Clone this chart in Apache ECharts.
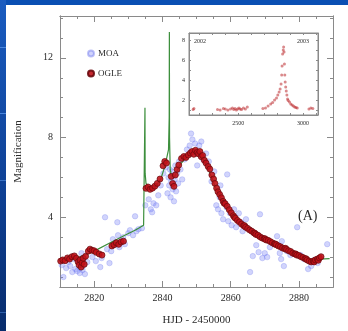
<!DOCTYPE html>
<html>
<head>
<meta charset="utf-8">
<script src="https://cdn.jsdelivr.net/npm/echarts@6/dist/echarts.min.js"></script>
<style>
  html, body { margin: 0; padding: 0; background: #ffffff; }
  #chart { width: 348px; height: 331px; }
</style>
</head>
<body>
<div id="chart"></div>
<script>
// MOA photometry (HJD - 2450000, magnification)
const moaHJD = [2810.5,2811.0,2811.8,2812.5,2813.0,2813.6,2814.0,2814.5,2815.0,2815.5,2815.8,2816.0,2816.3,2816.6,2817.0,2817.3,2818.0,2819.5,2820.5,2821.8,2822.2,2823.2,2823.8,2824.5,2825.0,2825.5,2826.0,2826.4,2826.8,2827.0,2827.4,2828.0,2828.5,2829.0,2830.0,2830.5,2831.4,2832.0,2832.4,2833.0,2834.0,2835.0,2836.0,2836.6,2837.0,2837.4,2838.2,2838.8,2839.5,2840.3,2841.0,2841.5,2841.8,2842.0,2842.2,2842.4,2842.6,2842.8,2843.0,2843.2,2843.4,2843.6,2843.8,2844.0,2844.3,2844.6,2844.9,2845.3,2845.8,2846.5,2847.2,2848.0,2848.4,2848.8,2849.2,2849.6,2850.2,2850.8,2851.4,2852.0,2852.8,2853.6,2854.4,2855.2,2855.8,2856.3,2856.8,2857.0,2857.3,2857.8,2858.2,2858.8,2859.0,2859.3,2859.8,2860.3,2861.0,2861.6,2862.4,2863.0,2863.5,2864.5,2865.7,2866.5,2867.5,2868.2,2868.6,2869.3,2870.0,2870.7,2871.5,2872.5,2873.6,2874.0,2874.4,2874.8,2875.0,2875.6,2876.5,2877.5,2879.5,2880.5,2881.5,2882.7,2883.6,2884.5,2885.5,2888.3];
const moaMag = [1.60,1.00,1.45,1.75,1.55,1.25,1.90,1.40,1.30,1.80,1.20,1.45,2.20,1.35,1.60,1.15,1.75,2.00,1.80,1.50,1.95,4.00,2.40,1.70,2.30,2.90,2.60,2.75,3.75,3.10,2.50,2.85,3.00,2.65,3.20,3.35,3.10,4.05,3.30,3.40,3.45,4.60,4.90,4.40,4.25,4.70,4.60,5.10,5.60,6.20,6.50,5.20,6.00,5.60,6.40,5.00,5.80,6.30,5.40,6.10,4.80,5.90,6.60,5.30,6.20,5.70,6.80,6.40,5.90,6.90,7.40,7.60,8.20,7.90,7.30,7.70,6.60,7.60,7.80,6.90,7.20,6.80,5.80,6.30,4.60,4.40,5.00,5.60,4.20,3.90,4.70,4.50,6.15,3.80,4.20,3.60,4.40,3.50,4.20,3.75,3.30,3.90,1.25,2.05,2.60,2.25,4.15,1.95,2.20,2.00,2.50,2.70,3.05,2.60,2.20,1.90,2.80,1.55,2.30,2.10,3.50,2.10,1.90,1.40,1.55,1.85,1.70,2.65];

// OGLE photometry (HJD - 2450000, magnification)
const ogleHJD = [2810.2,2810.8,2811.5,2812.2,2812.8,2813.5,2814.2,2814.8,2815.3,2815.6,2815.9,2816.2,2816.5,2816.8,2817.1,2817.5,2818.3,2818.8,2819.4,2820.0,2820.6,2821.5,2822.3,2825.2,2825.8,2826.5,2827.2,2827.9,2828.6,2835.2,2835.8,2836.4,2837.1,2837.8,2838.5,2839.3,2840.2,2840.7,2841.2,2842.6,2843.0,2843.4,2843.8,2844.3,2844.8,2845.6,2846.3,2846.9,2847.6,2848.2,2848.7,2849.2,2849.7,2850.2,2850.6,2851.0,2851.4,2851.8,2852.3,2852.8,2853.4,2853.9,2854.5,2855.0,2855.4,2855.9,2856.3,2856.8,2857.3,2857.8,2858.1,2858.4,2859.0,2859.6,2860.2,2860.8,2861.1,2861.4,2862.0,2862.6,2863.2,2863.8,2864.1,2864.4,2865.0,2865.6,2866.2,2866.8,2867.1,2867.4,2868.0,2868.6,2869.2,2869.8,2870.1,2870.4,2871.0,2871.6,2872.2,2872.8,2873.1,2873.4,2874.0,2874.6,2875.2,2875.8,2876.1,2876.4,2877.0,2877.6,2878.2,2878.8,2879.1,2879.4,2880.0,2880.6,2881.2,2881.8,2882.1,2882.4,2883.0,2883.6,2884.2,2884.5,2884.8,2885.4,2885.7,2886.0,2886.5];
const ogleMag = [1.80,1.86,1.82,1.96,1.90,2.02,2.06,1.94,1.76,1.60,1.86,1.50,1.72,1.94,1.64,2.04,2.30,2.40,2.34,2.32,2.24,2.16,2.10,2.56,2.62,2.72,2.64,2.76,2.80,5.45,5.52,5.40,5.46,5.56,5.70,5.92,6.58,6.80,6.72,6.05,5.70,5.55,6.12,6.40,6.62,6.95,7.05,7.00,7.12,7.22,7.30,7.16,7.36,7.25,7.18,7.30,7.04,7.10,6.86,6.72,6.55,6.42,6.12,5.92,5.70,5.46,5.28,5.14,4.98,4.80,4.70,4.68,4.55,4.38,4.22,4.08,4.00,3.95,3.84,3.76,3.66,3.58,3.58,3.50,3.44,3.36,3.30,3.22,3.20,3.14,3.10,3.02,2.96,2.92,2.92,2.86,2.84,2.78,2.72,2.66,2.66,2.62,2.56,2.52,2.46,2.42,2.44,2.38,2.32,2.28,2.20,2.16,2.16,2.10,2.08,2.02,1.98,1.92,1.92,1.86,1.80,1.76,1.80,1.76,1.86,1.90,1.84,1.96,2.02];

// Binary-lens model curve with the two caustic crossings
const modelHJD = [2810,2815,2820,2825,2829,2832,2834.5,2834.85,2834.9,2834.95,2835.2,2836.5,2838,2839.5,2840.8,2841.8,2842.0,2842.05,2842.1,2842.3,2842.6,2843.5,2845,2847,2849,2850.5,2852,2854,2856,2858,2860,2862,2865,2868,2871,2874,2877,2880,2883,2886,2889];
const modelMag = [1.80,1.95,2.30,2.75,3.10,3.35,3.60,3.65,9.50,6.20,5.70,5.45,5.55,5.90,6.60,7.40,9.00,13.30,8.00,6.40,6.10,6.00,6.60,7.00,7.20,7.20,6.90,6.20,5.30,4.65,4.15,3.80,3.40,3.02,2.78,2.52,2.27,2.06,1.86,1.90,1.92];

// Full multi-season light curve shown in the inset
const insetHJD = [2152,2158,2340,2360,2385,2400,2420,2440,2455,2465,2475,2485,2495,2505,2515,2525,2540,2555,2570,2690,2710,2730,2750,2765,2780,2795,2805,2815,2823,2830,2835,2838,2842,2847,2850,2853,2856,2859,2862,2866,2870,2875,2880,2885,2895,2905,2915,2925,2935,2945,2955,3045,3060,3075];
const insetMag = [1.05,1.15,1.05,1.00,1.15,1.10,1.00,1.10,1.20,1.05,1.15,1.00,1.10,1.20,1.10,1.05,1.20,1.10,1.30,1.15,1.20,1.40,1.60,1.75,2.00,2.20,2.50,2.80,3.10,3.60,4.50,5.40,6.60,7.00,7.30,6.80,5.60,4.50,3.80,3.30,2.90,2.50,2.10,1.95,1.80,1.60,1.50,1.40,1.30,1.25,1.20,1.10,1.20,1.15];

// Tick positions and labels
const mainXLabels = [2820, 2840, 2860, 2880];
const mainYLabels = [4, 8, 12];
const insetXLabels = [2500, 3000];
const insetYLabels = [2, 4, 6, 8];
const seasonLabels = ['2002', '2003'];
const seriesNames = ['MOA', 'OGLE'];

const zip = (a, b) => a.map((v, i) => [v, b[i]]);
const range = (a, b, s) => { const r = []; for (let v = a; v <= b + 1e-9; v += s) r.push(+v.toFixed(6)); return r; };

const serif = '"Liberation Serif", "DejaVu Serif", serif';
const axisGray = '#8a8a8a';
const textCol = '#2a2a2a';
const plain = v => String(v);

function axis(grid, pos, min, max, ticks, len, labels, fs, margin, extra) {
  return Object.assign({
    type: 'value', gridIndex: grid, position: pos, min: min, max: max,
    axisLine: { show: true, lineStyle: { color: axisGray, width: 1 } },
    axisTick: { show: true, inside: true, length: len, customValues: ticks, lineStyle: { color: axisGray } },
    axisLabel: labels ? { show: true, customValues: labels, formatter: plain, color: textCol, fontFamily: serif, fontSize: fs, margin: margin } : { show: false },
    splitLine: { show: false }
  }, extra || {});
}

const chart = echarts.init(document.getElementById('chart'), null, { renderer: 'canvas' });

const option = {
  backgroundColor: '#ffffff',
  animation: false,
  grid: [
    { left: 60, top: 16, width: 273, height: 272, show: false },
    { left: 189, top: 33, width: 129, height: 82, show: true, backgroundColor: '#ffffff', borderColor: axisGray, borderWidth: 1, z: 5 }
  ],
  xAxis: [
    axis(0, 'bottom', 2810, 2890, range(2810, 2890, 5), 3, mainXLabels, 10, 6,
      { name: 'HJD - 2450000', nameLocation: 'middle', nameGap: 28, nameTextStyle: { color: textCol, fontFamily: serif, fontSize: 11 } }),
    axis(0, 'bottom', 2810, 2890, mainXLabels, 6, null),
    axis(0, 'top', 2810, 2890, range(2810, 2890, 5), 3, null),
    axis(0, 'top', 2810, 2890, mainXLabels, 6, null),
    axis(1, 'bottom', 2120, 3115, range(2200, 3100, 100), 2, insetXLabels, 6, 5, { z: 6 }),
    axis(1, 'top', 2120, 3115, range(2200, 3100, 100), 2, null, 6, 5, { z: 6 })
  ],
  yAxis: [
    axis(0, 'left', 0.5, 14.1, range(1, 14, 1), 3, mainYLabels, 10, 7,
      { name: 'Magnification', nameLocation: 'middle', nameGap: 36, nameTextStyle: { color: textCol, fontFamily: serif, fontSize: 11 } }),
    axis(0, 'left', 0.5, 14.1, mainYLabels, 6, null),
    axis(0, 'right', 0.5, 14.1, range(1, 14, 1), 3, null),
    axis(0, 'right', 0.5, 14.1, mainYLabels, 6, null),
    axis(1, 'left', 0.5, 8.7, range(1, 8, 1), 2, insetYLabels, 6, 4, { z: 6 }),
    axis(1, 'right', 0.5, 8.7, range(1, 8, 1), 2, null, 6, 4, { z: 6 })
  ],
  legend: {
    data: seriesNames,
    orient: 'vertical',
    left: 82, top: 44,
    itemWidth: 6, itemHeight: 6, itemGap: 11,
    textStyle: { color: textCol, fontFamily: serif, fontSize: 9, padding: [0, 0, 0, -1] }
  },
  graphic: [
    // slide frame
    { type: 'rect', shape: { x: 0, y: 0, width: 348, height: 5 }, style: { fill: '#0a4fb3' }, z: 100, silent: true },
    { type: 'rect', shape: { x: 0, y: 0, width: 6, height: 331 }, z: 100, silent: true,
      style: { fill: new echarts.graphic.LinearGradient(0, 0, 0, 1, [
        { offset: 0, color: '#1a5cc0' }, { offset: 0.6, color: '#0e3f92' }, { offset: 1, color: '#082c6c' }]) } },
    { type: 'rect', shape: { x: 0, y: 47, width: 6, height: 1 }, style: { fill: '#4a86dc' }, z: 101, silent: true },
    { type: 'rect', shape: { x: 0, y: 113, width: 6, height: 1 }, style: { fill: '#4a86dc' }, z: 101, silent: true },
    { type: 'rect', shape: { x: 0, y: 180, width: 6, height: 1 }, style: { fill: '#3a72c4' }, z: 101, silent: true },
    { type: 'rect', shape: { x: 0, y: 312, width: 6, height: 1 }, style: { fill: '#2d5ea8' }, z: 101, silent: true },
    // panel tag
    { type: 'text', left: 298, top: 209, z: 50, style: { text: '(A)', fill: textCol, font: '14px ' + serif } },
    // season tags in the inset
    { type: 'text', left: 194, top: 38, z: 50, style: { text: seasonLabels[0], fill: textCol, font: '6px ' + serif } },
    { type: 'text', left: 297, top: 38, z: 50, style: { text: seasonLabels[1], fill: textCol, font: '6px ' + serif } }
  ],
  series: [
    {
      name: seriesNames[0], type: 'scatter', xAxisIndex: 0, yAxisIndex: 0,
      data: zip(moaHJD, moaMag), symbol: 'circle', symbolSize: 5.5, z: 2,
      itemStyle: { color: 'rgba(120,128,245,0.42)', borderColor: 'rgba(95,105,235,0.5)', borderWidth: 0.6 }
    },
    {
      name: 'model', type: 'line', xAxisIndex: 0, yAxisIndex: 0,
      data: zip(modelHJD, modelMag), showSymbol: false, z: 3,
      lineStyle: { color: '#3d8f3d', width: 1.2 }
    },
    {
      name: seriesNames[1], type: 'scatter', xAxisIndex: 0, yAxisIndex: 0,
      data: zip(ogleHJD, ogleMag), symbol: 'circle', symbolSize: 6, z: 4,
      itemStyle: { color: '#c0121a', borderColor: '#6a0a0e', borderWidth: 0.8, opacity: 0.9 }
    },
    {
      name: 'inset', type: 'scatter', xAxisIndex: 4, yAxisIndex: 4,
      data: zip(insetHJD, insetMag), symbol: 'circle', symbolSize: 3, z: 7,
      itemStyle: { color: 'rgba(185,30,35,0.65)' }
    }
  ]
};
chart.setOption(option);
</script>
</body>
</html>
